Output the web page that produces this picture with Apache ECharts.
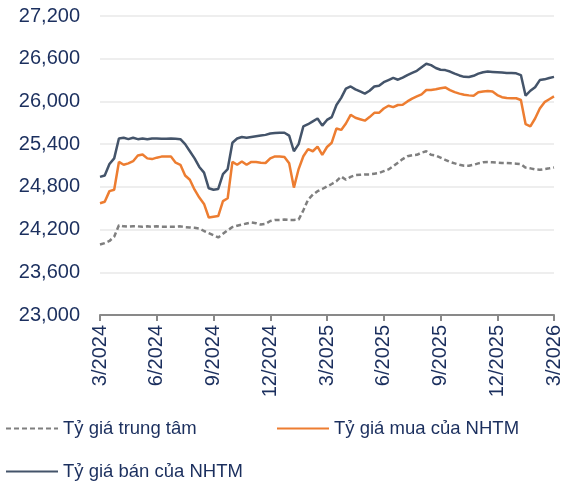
<!DOCTYPE html>
<html>
<head>
<meta charset="utf-8">
<script src="https://cdn.jsdelivr.net/npm/echarts@6/dist/echarts.min.js"></script>
<style>
  html, body { margin: 0; padding: 0; background: #fff; }
  #chart { width: 579px; height: 483px; }
</style>
</head>
<body>
<div id="chart"></div>
<script>
  // x in months since 3/2024, one sample every quarter month
  const step = 0.25;
  const tickLabels = ['3/2024', '6/2024', '9/2024', '12/2024', '3/2025', '6/2025', '9/2025', '12/2025', '3/2026'];
  const seriesNames = ['Tỷ giá trung tâm', 'Tỷ giá mua của NHTM', 'Tỷ giá bán của NHTM'];

  const centralRate = [
    23990, 24010, 24040, 24100, 24260, 24245, 24240, 24245, 24245, 24240,
    24245, 24240, 24245, 24240, 24240, 24240, 24240, 24245, 24235, 24230,
    24225, 24215, 24180, 24150, 24120, 24090, 24140, 24190, 24235, 24255,
    24270, 24285, 24300, 24290, 24270, 24280, 24320, 24335, 24335, 24340,
    24335, 24335, 24340, 24470, 24620, 24690, 24740, 24770, 24805, 24840,
    24880, 24945, 24900, 24940, 24965, 24970, 24975, 24975, 24985, 24995,
    25020, 25045, 25090, 25140, 25190, 25230, 25245, 25250, 25280, 25300,
    25250, 25240, 25210, 25180, 25150, 25130, 25110, 25096, 25096, 25110,
    25130, 25145, 25148, 25145, 25140, 25135, 25134, 25130, 25125, 25120,
    25070, 25060, 25045, 25040, 25050, 25060, 25072,
  ];
  const buyRate = [
    24570, 24590, 24740, 24760, 25150, 25110, 25130, 25160, 25240, 25255,
    25200, 25190, 25210, 25225, 25225, 25225, 25140, 25110, 24960, 24900,
    24760, 24650, 24560, 24370, 24380, 24390, 24600, 24640, 25150, 25110,
    25156, 25110, 25150, 25150, 25140, 25135, 25200, 25227, 25227, 25220,
    25130, 24790, 25050, 25230, 25330, 25300, 25365, 25250, 25360, 25420,
    25620, 25600, 25690, 25812, 25770, 25750, 25730, 25780, 25840, 25840,
    25900, 25940, 25920, 25950, 25953, 26000, 26040, 26070, 26100, 26160,
    26160, 26170, 26185, 26197, 26160, 26130, 26110, 26094, 26085, 26080,
    26130, 26140, 26145, 26140, 26090, 26060, 26047, 26045, 26045, 26020,
    25680, 25650, 25760, 25900, 25990, 26030, 26070,
  ];
  const sellRate = [
    24940, 24960, 25120, 25200, 25480, 25490, 25470, 25490, 25470, 25480,
    25470, 25480, 25480, 25475, 25475, 25480, 25475, 25470, 25400, 25300,
    25200, 25080, 25000, 24780, 24760, 24770, 24980, 25050, 25420, 25480,
    25500, 25490, 25500, 25510, 25520, 25530, 25550, 25555, 25560, 25560,
    25520, 25300, 25400, 25650, 25680, 25720, 25760, 25660, 25740, 25780,
    25950, 26050, 26180, 26210, 26170, 26140, 26110, 26150, 26210, 26220,
    26270, 26300, 26330, 26305, 26335, 26370, 26400, 26430, 26480, 26530,
    26510, 26470, 26445, 26440, 26420, 26390, 26365, 26345, 26343, 26360,
    26390, 26410, 26420, 26415, 26410, 26405, 26400, 26398, 26395, 26370,
    26080, 26150, 26200, 26300, 26310, 26330, 26345,
  ];

  const toPoints = list => list.map((v, i) => [i * step, v]);

  const textColor = '#1B2F5E';
  const fontFamily = '"Liberation Sans", Arial, sans-serif';

  const myChart = echarts.init(document.getElementById('chart'));

  const legendBase = {
    orient: 'horizontal',
    itemWidth: 52,
    itemHeight: 14,
    itemGap: 6,
    // hide the symbol in the legend, keep only the line
    itemStyle: { opacity: 0 },
    textStyle: {
      color: textColor,
      fontFamily,
      fontSize: 18.5,
    },
  };

  myChart.setOption({
    animation: false,
    grid: {
      left: 100,
      right: 25,
      top: 16,
      bottom: 168,
    },
    legend: [
      { ...legendBase, data: [seriesNames[0]], left: 0, top: 414 },
      { ...legendBase, data: [seriesNames[1]], left: 271, top: 414 },
      { ...legendBase, data: [seriesNames[2]], left: 0, top: 457 },
    ],
    xAxis: {
      type: 'value',
      min: 0,
      max: 24,
      interval: 3,
      axisLine: {
        lineStyle: { color: '#898989', width: 2 },
      },
      axisTick: {
        show: true,
        length: 6,
        lineStyle: { color: '#898989', width: 2 },
      },
      splitLine: { show: false },
      axisLabel: {
        rotate: 90,
        margin: 10,
        color: textColor,
        fontFamily,
        fontSize: 20,
        formatter: value => tickLabels[Math.round(value / 3)],
      },
    },
    yAxis: {
      type: 'value',
      min: 23000,
      max: 27200,
      interval: 600,
      axisLine: { show: false },
      axisTick: { show: false },
      splitLine: {
        lineStyle: { color: '#EEEEEE', width: 2 },
      },
      axisLabel: {
        margin: 20,
        color: textColor,
        fontFamily,
        fontSize: 20,
        formatter: value => value.toLocaleString('en-US'),
      },
    },
    series: [
      {
        name: seriesNames[0],
        type: 'line',
        symbol: 'none',
        data: toPoints(centralRate),
        lineStyle: { color: '#7F7F7F', width: 2.5, type: [5, 3] },
        itemStyle: { color: '#7F7F7F' },
      },
      {
        name: seriesNames[1],
        type: 'line',
        symbol: 'none',
        data: toPoints(buyRate),
        lineStyle: { color: '#ED7D31', width: 2.5 },
        itemStyle: { color: '#ED7D31' },
      },
      {
        name: seriesNames[2],
        type: 'line',
        symbol: 'none',
        data: toPoints(sellRate),
        lineStyle: { color: '#44546A', width: 2.5 },
        itemStyle: { color: '#44546A' },
      },
    ],
  });
</script>
</body>
</html>
